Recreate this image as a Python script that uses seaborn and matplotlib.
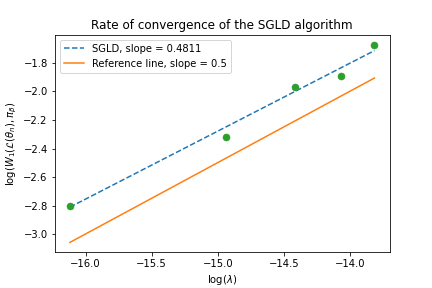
import numpy as np
import matplotlib
matplotlib.use("Agg")
import matplotlib.pyplot as plt
import seaborn as sns

# data
log_lambda = [-16.118, -14.939, -14.413, -14.070, -13.816]
log_w1 = [-2.805, -2.322, -1.966, -1.889, -1.674]
fit_x = [-16.118, -13.816]
fit_y = [-2.810, -1.714]
ref_x = [-16.118, -13.816]
ref_y = [-3.057, -1.906]

sgld_label = "SGLD, slope = 0.4811"
ref_label = "Reference line, slope = 0.5"

plt.rcParams["font.family"] = ["DejaVu Sans"]
fig = plt.figure(figsize=(6, 4), dpi=72)
ax = fig.add_axes([0.1266, 0.124, 0.7755, 0.7545])

sns.lineplot(x=fit_x, y=fit_y, ax=ax, color="#1f77b4", linestyle="--",
             label=sgld_label)
sns.lineplot(x=ref_x, y=ref_y, ax=ax, color="#ff7f0e", linestyle="-",
             label=ref_label)
sns.scatterplot(x=log_lambda, y=log_w1, ax=ax, color="#2ca02c", s=50,
                edgecolor="#2ca02c", linewidth=0.5, zorder=3)

ax.set_title("Rate of convergence of the SGLD algorithm")
ax.set_xlabel(r"$\log(\lambda)$")
ax.set_ylabel(r"$\log(W_1(\mathcal{L}(\theta_n), \pi_\beta)$")
ax.legend(loc="upper left")

fig.savefig("out.png", dpi=72)
